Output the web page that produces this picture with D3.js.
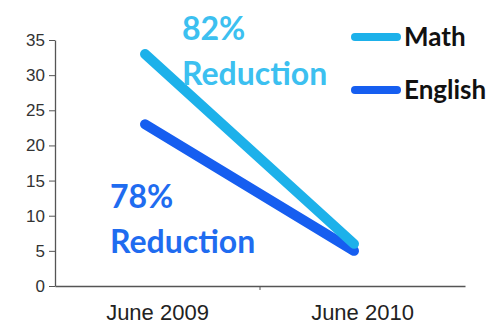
<!DOCTYPE html>
<html>
<head>
<meta charset="utf-8">
<script src="https://cdn.jsdelivr.net/npm/d3@7"></script>
<style>
  body { margin: 0; background: #fff; }
</style>
</head>
<body>
<div class="chart"></div>
<script>
const dates = ['June 2009', 'June 2010'];
const mathValues = [33, 6];
const englishValues = [23, 5];
const yTicks = [0, 5, 10, 15, 20, 25, 30, 35];

const width = 498;
const height = 326;

const svg = d3.select('.chart')
    .append('svg')
    .attr('width', width)
    .attr('height', height);

// scales
const x = d3.scaleBand()
    .domain(dates)
    .range([55, 465]);
const xPoint = d3.scalePoint()
    .domain(dates)
    .range([145, 354]);
const y = d3.scaleLinear()
    .domain([0, 35])
    .range([286, 40]);

// y axis
const yAxis = svg.append('g')
    .attr('transform', 'translate(55,0)')
    .call(d3.axisLeft(y).tickValues(yTicks).tickSize(6).tickSizeOuter(0));
yAxis.select('.domain').attr('stroke', '#555').attr('stroke-width', 1.3);
yAxis.selectAll('.tick line').attr('stroke', '#555');
yAxis.selectAll('text')
    .attr('font-family', 'Liberation Sans, Arial, sans-serif')
    .attr('font-size', '17px')
    .attr('fill', '#333')
    .attr('x', -10);

// x axis
const xAxis = svg.append('g')
    .attr('transform', 'translate(0,286)')
    .call(d3.axisBottom(x).tickSize(0).tickSizeOuter(0));
xAxis.select('.domain').attr('stroke', '#555').attr('stroke-width', 1.3);
xAxis.selectAll('text')
    .attr('font-family', 'Liberation Sans, Arial, sans-serif')
    .attr('font-size', '22px')
    .attr('fill', '#222')
    .attr('y', 0)
    .attr('dy', '1.55em');
// boundary tick between categories
svg.append('line')
    .attr('x1', x(dates[1])).attr('x2', x(dates[1]))
    .attr('y1', 286).attr('y2', 290)
    .attr('stroke', '#555');

// lines
const series = [
    { name: 'Math', values: mathValues, color: '#1DB1EA' },
    { name: 'English', values: englishValues, color: '#165EF0' }
];
const line = d3.line()
    .x((d, i) => xPoint(dates[i]))
    .y(d => y(d));

svg.selectAll('.series')
    .data(series.slice().reverse())
    .enter()
    .append('path')
    .attr('class', 'series')
    .attr('d', s => line(s.values))
    .attr('fill', 'none')
    .attr('stroke', s => s.color)
    .attr('stroke-width', 10)
    .attr('stroke-linecap', 'round');

// annotations
const font = 'Lato, Open Sans, sans-serif';
const notes = [
    { text: '82%', x: 182, y: 40, color: '#3CC0F0' },
    { text: 'Reduction', x: 182, y: 85, color: '#3CC0F0' },
    { text: '78%', x: 110, y: 208, color: '#1F6CF0' },
    { text: 'Reduction', x: 110, y: 253, color: '#1F6CF0' }
];
svg.selectAll('.note')
    .data(notes)
    .enter()
    .append('text')
    .attr('class', 'note')
    .text(d => d.text)
    .attr('x', d => d.x).attr('y', d => d.y)
    .attr('font-family', font).attr('font-weight', 'bold')
    .attr('font-size', '32px').attr('fill', d => d.color);

// legend
const legend = svg.selectAll('.legend')
    .data(series)
    .enter()
    .append('g')
    .attr('class', 'legend')
    .attr('transform', (s, i) => `translate(355,${37 + i * 53})`);
legend.append('line')
    .attr('x1', 0).attr('x2', 42)
    .attr('y1', 0).attr('y2', 0)
    .attr('stroke', s => s.color)
    .attr('stroke-width', 8)
    .attr('stroke-linecap', 'round');
legend.append('text')
    .text(s => s.name)
    .attr('x', 49).attr('y', 9)
    .attr('font-family', font).attr('font-weight', 'bold')
    .attr('font-size', '26px').attr('fill', '#111');
</script>
</body>
</html>
